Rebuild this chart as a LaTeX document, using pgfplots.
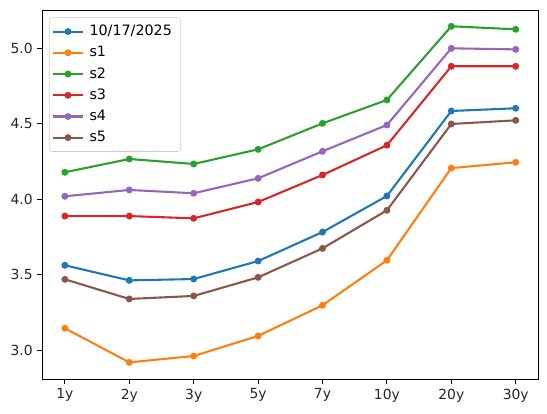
\documentclass[border=0pt]{standalone}
\usepackage{fontspec}
\setmainfont{DejaVu Sans}
\usepackage{pgfplots}
\pgfplotsset{compat=1.18}
\definecolor{c0}{HTML}{1F77B4}
\definecolor{c1}{HTML}{FF7F0E}
\definecolor{c2}{HTML}{2CA02C}
\definecolor{c3}{HTML}{D62728}
\definecolor{c4}{HTML}{9467BD}
\definecolor{c5}{HTML}{8C564B}
\begin{document}
\begin{tikzpicture}
\begin{axis}[
  scale only axis,
  width=357.1pt, height=265.5pt,
  xmin=-0.35, xmax=7.35, ymin=2.808, ymax=5.25,
  xtick={0,1,2,3,4,5,6,7},
  xticklabels={1y,2y,3y,5y,7y,10y,20y,30y},
  ytick={3.0,3.5,4.0,4.5,5.0},
  yticklabel style={/pgf/number format/.cd,fixed,fixed zerofill,precision=1},
  /pgf/number format/assume math mode=true,
  tick align=outside, xtick pos=bottom, ytick pos=left,
  major tick length=3.5pt,
  tick style={black, line width=0.6pt},
  axis line style={line width=0.6pt},
  ticklabel style={font=\fontsize{10}{12}\selectfont, text=black!85},
  every axis plot/.append style={line width=1.5pt, mark=*, mark size=1.7pt},
  legend image code/.code={\draw[mark repeat=2,mark phase=2,#1] plot coordinates {(0cm,0cm)(0.37cm,0cm)(0.74cm,0cm)};},
  legend style={at={(0.014,0.981)}, anchor=north west, draw=black!20, rounded corners=2pt,
    font=\fontsize{10.3}{12}\selectfont, row sep=2.2pt, inner xsep=2pt, inner ysep=3.5pt,
    nodes={inner xsep=4.2pt}},
  legend cell align=left,
]
\addplot[c0, mark options={fill=c0}] coordinates {(0,3.561)(1,3.461)(2,3.470)(3,3.589)(4,3.781)(5,4.020)(6,4.583)(7,4.601)};
\addlegendentry{10/17/2025}
\addplot[c1, mark options={fill=c1}] coordinates {(0,3.144)(1,2.918)(2,2.960)(3,3.093)(4,3.296)(5,3.594)(6,4.205)(7,4.243)};
\addlegendentry{s1}
\addplot[c2, mark options={fill=c2}] coordinates {(0,4.177)(1,4.265)(2,4.232)(3,4.329)(4,4.501)(5,4.656)(6,5.144)(7,5.124)};
\addlegendentry{s2}
\addplot[c3, mark options={fill=c3}] coordinates {(0,3.887)(1,3.887)(2,3.872)(3,3.980)(4,4.159)(5,4.356)(6,4.879)(7,4.879)};
\addlegendentry{s3}
\addplot[c4, mark options={fill=c4}] coordinates {(0,4.018)(1,4.060)(2,4.038)(3,4.137)(4,4.316)(5,4.490)(6,4.998)(7,4.991)};
\addlegendentry{s4}
\addplot[c5, mark options={fill=c5}] coordinates {(0,3.468)(1,3.338)(2,3.358)(3,3.481)(4,3.673)(5,3.925)(6,4.497)(7,4.521)};
\addlegendentry{s5}
\end{axis}
\path ([shift={(-30.5pt,-24.5pt)}]current axis.south west) rectangle ([shift={(6.3pt,7.4pt)}]current axis.north east);
\end{tikzpicture}
\end{document}
